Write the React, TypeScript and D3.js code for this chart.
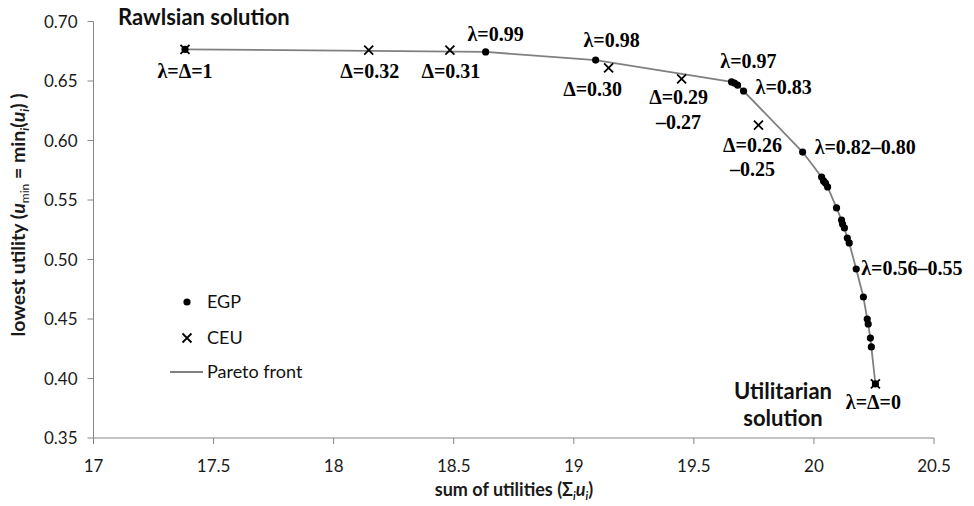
import * as d3 from "d3";

// EGP solutions (sum of utilities, lowest utility)
const egpSum = [17.381, 18.633, 19.091, 19.657, 19.669, 19.682, 19.707, 19.953, 20.032, 20.04, 20.048, 20.057, 20.094, 20.115, 20.119, 20.127, 20.139, 20.147, 20.176, 20.206, 20.222, 20.226, 20.235, 20.239, 20.256];
const egpMin = [0.6766, 0.6744, 0.6676, 0.6492, 0.6483, 0.6466, 0.6416, 0.5903, 0.5693, 0.566, 0.5643, 0.561, 0.5433, 0.5332, 0.5298, 0.5265, 0.518, 0.5139, 0.492, 0.4685, 0.45, 0.4458, 0.434, 0.4265, 0.3954];

// CEU solutions
const ceuSum = [17.381, 18.146, 18.484, 19.145, 19.449, 19.769, 20.256];
const ceuMin = [0.6766, 0.676, 0.676, 0.661, 0.6517, 0.613, 0.3954];

const xTicks = [17, 17.5, 18, 18.5, 19, 19.5, 20, 20.5];
const yTicks = [0.35, 0.4, 0.45, 0.5, 0.55, 0.6, 0.65, 0.7];

// annotation text and the solution it belongs to
const labelText = ["λ=Δ=1", "Δ=0.32", "Δ=0.31", "λ=0.99", "λ=0.98", "Δ=0.30", "Δ=0.29", "–0.27", "λ=0.97", "λ=0.83", "Δ=0.26", "–0.25", "λ=0.82–0.80", "λ=0.56–0.55", "λ=Δ=0"];
const labelSum = [17.381, 18.146, 18.484, 18.633, 19.091, 19.145, 19.449, 19.449, 19.669, 19.707, 19.769, 19.769, 19.953, 20.176, 20.256];
const labelMin = [0.6766, 0.676, 0.676, 0.6744, 0.6676, 0.661, 0.6517, 0.6517, 0.6483, 0.6416, 0.613, 0.613, 0.5903, 0.492, 0.3954];

// pixel offsets of the labels [dx, dy, anchor]
const labelLayout: [number, number, string][] = [
  [0, 29, "middle"], [1, 28, "middle"], [1, 28, "middle"], [10, -11, "middle"],
  [16, -13, "middle"], [-16, 28, "middle"], [-3, 25, "middle"], [-3, 50, "middle"],
  [14, -15, "middle"], [12, 3, "start"], [-6, 27, "middle"], [-6, 51, "middle"],
  [12, 2, "start"], [5, 6, "start"], [-2, 25, "middle"],
];

const W = 974;
const H = 506;
const sans = "Lato, 'Open Sans', sans-serif";
const serif = "'Liberation Serif', 'DejaVu Serif', serif";
const axisColor = "#868686";

export default function App() {
  const x = d3.scaleLinear().domain([17, 20.5]).range([93.5, 934]);
  const y = d3.scaleLinear().domain([0.35, 0.7]).range([438, 21.5]);

  const front = egpSum.map((s, i) => [s, egpMin[i]] as [number, number]);
  const line = d3
    .line<[number, number]>()
    .x((d) => x(d[0]))
    .y((d) => y(d[1]));

  const cross = (cx: number, cy: number, r: number) =>
    `M${cx - r},${cy - r}L${cx + r},${cy + r}M${cx - r},${cy + r}L${cx + r},${cy - r}`;

  return (
    <svg
      width={W}
      height={H}
      style={{ position: "absolute", left: 0, top: 0, background: "#fff" }}
    >
      {/* axes */}
      <line x1={x(17)} x2={x(20.5)} y1={y(0.35)} y2={y(0.35)} stroke={axisColor} strokeWidth={1} />
      <line x1={x(17)} x2={x(17)} y1={y(0.35)} y2={y(0.7)} stroke={axisColor} strokeWidth={1} />
      {xTicks.map((t) => (
        <g key={"x" + t}>
          <line x1={x(t)} x2={x(t)} y1={y(0.35)} y2={y(0.35) + 6} stroke={axisColor} />
          <text x={x(t)} y={472} textAnchor="middle" fontFamily={sans} fontSize={17} fill="#1a1a1a">
            {t}
          </text>
        </g>
      ))}
      {yTicks.map((t) => (
        <g key={"y" + t}>
          <line x1={x(17) - 6} x2={x(17)} y1={y(t)} y2={y(t)} stroke={axisColor} />
          <text x={x(17) - 16} y={y(t) + 6} textAnchor="end" fontFamily={sans} fontSize={17} fill="#1a1a1a">
            {t.toFixed(2)}
          </text>
        </g>
      ))}

      {/* axis titles */}
      <text x={514} y={496} textAnchor="middle" fontFamily={sans} fontSize={18} fontWeight="bold" fill="#1a1a1a">
        sum of utilities (Σ
        <tspan fontStyle="italic" fontSize={11} dy={4}>i</tspan>
        <tspan fontStyle="italic" dy={-4}>u</tspan>
        <tspan fontStyle="italic" fontSize={11} dy={4}>i</tspan>
        <tspan dy={-4}>)</tspan>
      </text>
      <text
        transform="translate(25,215) rotate(-90)"
        textAnchor="middle"
        fontFamily={sans}
        fontSize={19.5}
        fontWeight="bold"
        fill="#1a1a1a"
      >
        lowest utility (
        <tspan fontStyle="italic">u</tspan>
        <tspan fontSize={12} fontWeight="normal" dy={4}>min</tspan>
        <tspan dy={-4}> = min</tspan>
        <tspan fontSize={12} fontStyle="italic" dy={4}>i</tspan>
        <tspan dy={-4}>(</tspan>
        <tspan fontStyle="italic">u</tspan>
        <tspan fontSize={12} fontStyle="italic" dy={4}>i</tspan>
        <tspan dy={-4}>) )</tspan>
      </text>

      {/* pareto front */}
      <path d={line(front) ?? ""} fill="none" stroke="#808080" strokeWidth={1.8} />

      {/* EGP */}
      {egpSum.map((s, i) => (
        <circle key={"e" + i} cx={x(s)} cy={y(egpMin[i])} r={3.6} fill="#000" />
      ))}
      {/* CEU */}
      {ceuSum.map((s, i) => (
        <path key={"c" + i} d={cross(x(s), y(ceuMin[i]), 4.5)} stroke="#000" strokeWidth={1.8} fill="none" />
      ))}

      {/* annotations */}
      {labelText.map((t, i) => (
        <text
          key={"l" + i}
          x={x(labelSum[i]) + labelLayout[i][0]}
          y={y(labelMin[i]) + labelLayout[i][1]}
          textAnchor={labelLayout[i][2] as any}
          fontFamily={serif}
          fontWeight="bold"
          fontSize={20}
          fill="#000"
        >
          {t}
        </text>
      ))}
      <text x={118} y={25} fontFamily={sans} fontWeight="bold" fontSize={22} fill="#111">
        Rawlsian solution
      </text>
      <text x={783} y={399} textAnchor="middle" fontFamily={sans} fontWeight="bold" fontSize={22} fill="#111">
        Utilitarian
      </text>
      <text x={783} y={426} textAnchor="middle" fontFamily={sans} fontWeight="bold" fontSize={22} fill="#111">
        solution
      </text>

      {/* legend */}
      <circle cx={187} cy={302} r={3.6} fill="#000" />
      <text x={207} y={308} fontFamily={sans} fontSize={18} fill="#111">EGP</text>
      <path d={cross(187, 338, 4.5)} stroke="#000" strokeWidth={1.8} />
      <text x={207} y={344} fontFamily={sans} fontSize={18} fill="#111">CEU</text>
      <line x1={170} x2={203} y1={372} y2={372} stroke="#808080" strokeWidth={1.8} />
      <text x={207} y={378} fontFamily={sans} fontSize={18} fill="#111">Pareto front</text>
    </svg>
  );
}
